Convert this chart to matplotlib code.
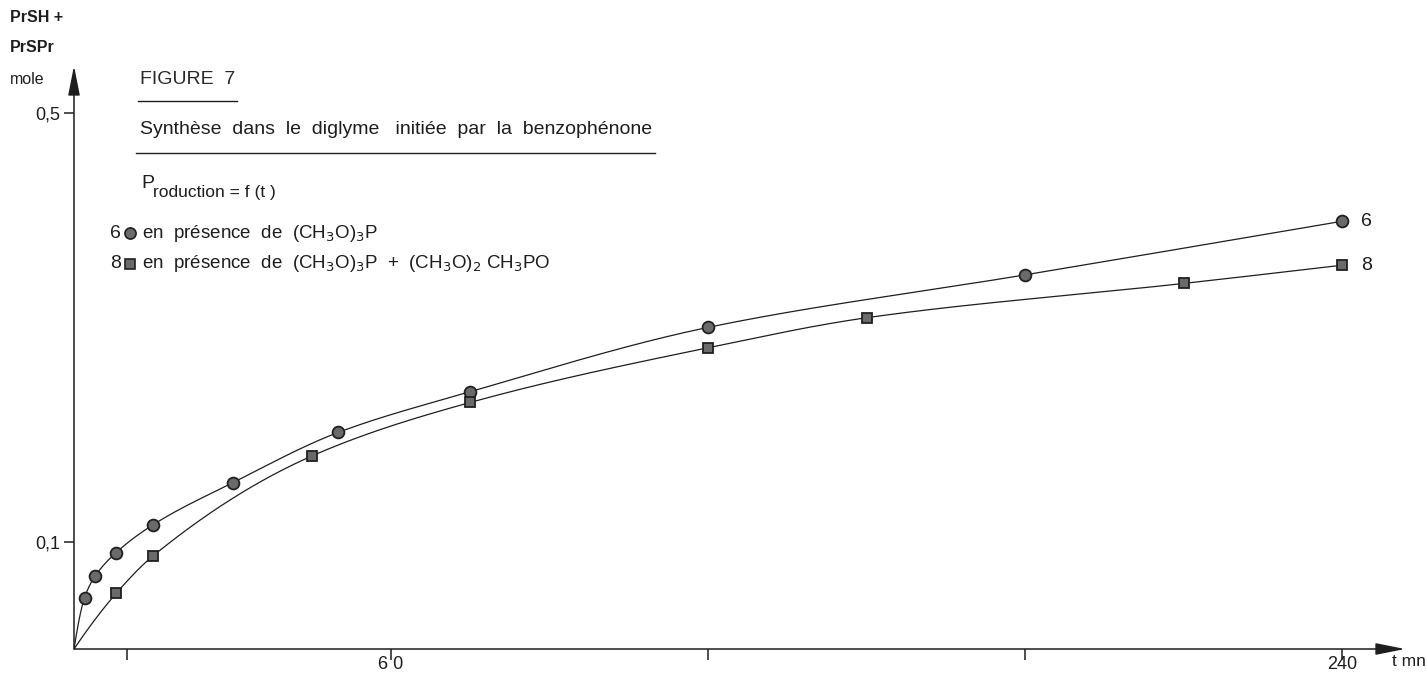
import numpy as np
import matplotlib
matplotlib.use("Agg")
import matplotlib.pyplot as plt
from matplotlib.lines import Line2D

# ---- data ------------------------------------------------------------
t_6 = [2, 4, 8, 15, 30, 50, 75, 120, 180, 240]
y_6 = [0.048, 0.068, 0.090, 0.116, 0.155, 0.202, 0.240, 0.300, 0.349, 0.399]

t_8 = [8, 15, 45, 75, 120, 150, 210, 240]
y_8 = [0.052, 0.087, 0.180, 0.230, 0.281, 0.309, 0.341, 0.358]

x_ticks = [10, 60, 120, 180, 240]
x_ticklabels = ["", "6 0", "", "", "240"]
y_ticks = [0.1, 0.5]
y_ticklabels = ["0,1", "0,5"]

W, H = 1427, 674
FONT = "Liberation Sans"
INK = "#1e1e1e"
plt.rcParams["font.family"] = [FONT, "DejaVu Sans"]


def pchip(x, y, xn):
    """Shape-preserving piecewise cubic through (x, y)."""
    x = np.asarray(x, float)
    y = np.asarray(y, float)
    h = np.diff(x)
    d = np.diff(y) / h
    n = len(x)
    m = np.zeros(n)
    for k in range(1, n - 1):
        if d[k - 1] * d[k] > 0:
            w1 = 2 * h[k] + h[k - 1]
            w2 = h[k] + 2 * h[k - 1]
            m[k] = (w1 + w2) / (w1 / d[k - 1] + w2 / d[k])
    m[0] = ((2 * h[0] + h[1]) * d[0] - h[0] * d[1]) / (h[0] + h[1])
    if np.sign(m[0]) != np.sign(d[0]):
        m[0] = 0
    elif np.sign(d[0]) != np.sign(d[1]) and abs(m[0]) > abs(3 * d[0]):
        m[0] = 3 * d[0]
    m[-1] = ((2 * h[-1] + h[-2]) * d[-1] - h[-1] * d[-2]) / (h[-1] + h[-2])
    if np.sign(m[-1]) != np.sign(d[-1]):
        m[-1] = 0
    idx = np.clip(np.searchsorted(x, xn) - 1, 0, n - 2)
    hk = h[idx]
    s = (xn - x[idx]) / hk
    h00 = 2 * s**3 - 3 * s**2 + 1
    h10 = s**3 - 2 * s**2 + s
    h01 = -2 * s**3 + 3 * s**2
    h11 = s**3 - s**2
    return h00 * y[idx] + h10 * hk * m[idx] + h01 * y[idx + 1] + h11 * hk * m[idx + 1]


fig = plt.figure(figsize=(W / 100, H / 100), dpi=100)
fig.patch.set_facecolor("white")

# axes: origin at (74, 649) px, 60 min = 317 px, 0.1 mole = 107 px
x0, y0 = 74, 649
px_per_min = 317 / 60
px_per_unit = 1072
ax = fig.add_axes([x0 / W, (H - y0) / H, (W - x0) / W, y0 / H])
ax.set_xlim(0, (W - x0) / px_per_min)
ax.set_ylim(0, y0 / px_per_unit)
for s in ax.spines.values():
    s.set_visible(False)
ax.patch.set_alpha(0)

# axis lines with arrow heads
arrow = dict(arrowstyle="-|>,head_length=0.9,head_width=0.18", mutation_scale=20,
             lw=1.1, color=INK, shrinkA=0, shrinkB=0)
ax.annotate("", xy=((1405 - x0) / px_per_min, 0), xytext=(0, 0),
            arrowprops=arrow, annotation_clip=False)
ax.annotate("", xy=(0, (y0 - 66) / px_per_unit), xytext=(0, 0),
            arrowprops=arrow, annotation_clip=False)

ax.set_xticks(x_ticks)
ax.set_xticklabels(x_ticklabels)
ax.set_yticks(y_ticks)
ax.set_yticklabels(y_ticklabels)
ax.tick_params(axis="x", direction="out", length=8, width=1.1, color=INK,
               labelsize=13, labelcolor=INK, pad=-3)
ax.tick_params(axis="y", direction="out", length=7, width=1.1, color=INK,
               labelsize=13, labelcolor=INK, pad=3)

# fitted curves through the origin
tt = np.linspace(0, 240, 600)
for t, y in ((t_6, y_6), (t_8, y_8)):
    tx = np.concatenate([[0], t])
    ty = np.concatenate([[0], y])
    ax.plot(tt, pchip(tx, ty, tt), color=INK, lw=0.9, zorder=2)

ax.plot(t_6, y_6, ls="none", marker="o", ms=8.5, mfc="#6a6a6a", mec="#202020",
        mew=1.3, zorder=3, clip_on=False)
ax.plot(t_8, y_8, ls="none", marker="s", ms=7.5, mfc="#6a6a6a", mec="#202020",
        mew=1.3, zorder=3, clip_on=False)


def fpos(x, y):
    return x / W, 1 - y / H


def ftext(x, y, s, **kw):
    kw.setdefault("color", INK)
    kw.setdefault("va", "center")
    kw.setdefault("ha", "left")
    return fig.text(*fpos(x, y), s, **kw)


def hline(x1, x2, y, lw=1.0):
    fig.add_artist(Line2D([x1 / W, x2 / W], [1 - y / H, 1 - y / H],
                          transform=fig.transFigure, color=INK, lw=lw))


# y-axis title
ftext(10, 18, "PrSH +", fontsize=11.5, fontweight="bold")
ftext(10, 48, "PrSPr", fontsize=11.5, fontweight="bold")
ftext(10, 79, "mole", fontsize=11.5)

# x-axis unit
ftext(1392, 662, "t mn", fontsize=12.5)

# title block
ftext(140, 79, "FIGURE  7", fontsize=14, color="#2a2a2a")
hline(138, 237, 101)
sub = ftext(140, 130, "Synthèse  dans  le  diglyme   initiée  par  la  benzophénone",
            fontsize=14)
fig.canvas.draw()
bb = sub.get_window_extent()
hline(136, bb.x1 + 3, 153)
ftext(141, 184, "P", fontsize=14)
ftext(153, 193, "roduction = f (t )", fontsize=12.5)

# legend lines
ftext(110, 233, "6", fontsize=14)
fig.add_artist(Line2D([130 / W], [1 - 233 / H], transform=fig.transFigure,
                      marker="o", ms=8, mfc="#6a6a6a", mec="#202020", mew=1.2))
ftext(142, 233, r"en  présence  de  (CH$_3$O)$_3$P", fontsize=13.5)
ftext(110, 264, "8", fontsize=14)
fig.add_artist(Line2D([130 / W], [1 - 264 / H], transform=fig.transFigure,
                      marker="s", ms=7.5, mfc="#6a6a6a", mec="#202020", mew=1.2))
ftext(142, 264,
      r"en  présence  de  (CH$_3$O)$_3$P  +  (CH$_3$O)$_2$ CH$_3$PO",
      fontsize=13.5)

# curve end labels
ax.annotate("6", xy=(t_6[-1], y_6[-1]), xytext=(14, 0), textcoords="offset points",
            va="center", ha="left", fontsize=14, color=INK, annotation_clip=False)
ax.annotate("8", xy=(t_8[-1], y_8[-1]), xytext=(14, 0), textcoords="offset points",
            va="center", ha="left", fontsize=14, color=INK, annotation_clip=False)

fig.savefig("out.png", dpi=100, facecolor="white")
